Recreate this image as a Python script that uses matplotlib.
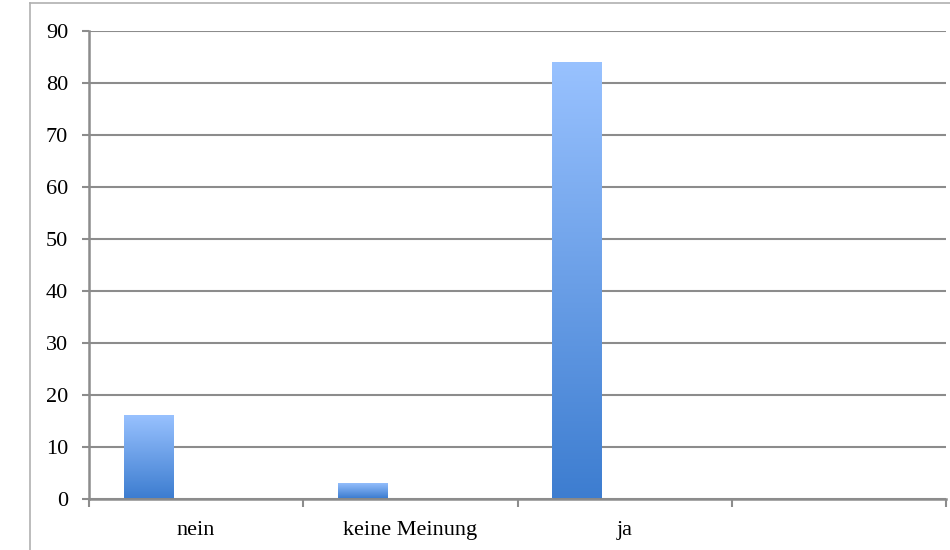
import numpy as np
import matplotlib
matplotlib.use("Agg")
import matplotlib.pyplot as plt
from matplotlib.colors import LinearSegmentedColormap
from matplotlib.lines import Line2D

categories = ["nein", "keine Meinung", "ja", ""]
values = [16, 3, 84]
y_ticks = list(range(0, 91, 10))

plt.rcParams['font.family'] = ['Liberation Serif', 'DejaVu Serif']

fig = plt.figure(figsize=(9.5, 5.5), dpi=100)
ax = fig.add_axes([89 / 950, 51.5 / 550, 857 / 950, 467.5 / 550])

grid_col = "#8c8c8c"
cmap = LinearSegmentedColormap.from_list("bar", ["#3d7dd0", "#99c2ff"])
grad = np.linspace(0, 1, 256).reshape(-1, 1)

# bars sit in the left part of each category slot
offset, width = 0.163, 0.229
xs = np.arange(len(values)) + offset
bars = ax.bar(xs, values, width=width, align="edge", color="none", zorder=3)
for b in bars:
    x0, y0 = b.get_x(), b.get_y()
    w, h = b.get_width(), b.get_height()
    # soft shadow
    ax.bar(x0 + 0.004, h, width=w, align="edge", color="#000000", alpha=0.12,
           zorder=2.5)
    im = ax.imshow(grad, cmap=cmap, origin="lower", aspect="auto",
                   extent=(x0, x0 + w, y0, y0 + h), zorder=3)
    im.set_clip_path(b)

ax.set_xlim(0, len(categories))
ax.set_ylim(0, 90)
ax.set_yticks(y_ticks)
ax.set_yticklabels([str(t) for t in y_ticks], fontsize=16)
ax.yaxis.grid(True, color=grid_col, linewidth=1.5, zorder=1)
ax.set_axisbelow(True)

ax.set_xticks(np.arange(len(categories)) + 0.5)
ax.set_xticklabels(categories, fontsize=16)
ax.set_xticks(np.arange(len(categories) + 1), minor=True)
ax.tick_params(axis="x", which="major", length=0, pad=16)
ax.tick_params(axis="x", which="minor", length=6, width=1.5, color=grid_col)
ax.tick_params(axis="y", length=5, width=1.5, color=grid_col, pad=10)

for s in ["top", "right"]:
    ax.spines[s].set_visible(False)
for s in ["left", "bottom"]:
    ax.spines[s].set_color(grid_col)
    ax.spines[s].set_linewidth(1.8)

# outer frame of the chart area
fig.add_artist(Line2D([30 / 950, 30 / 950], [0, 547 / 550], color="#b0b0b0", lw=1.2))
fig.add_artist(Line2D([30 / 950, 1], [547 / 550, 547 / 550], color="#b0b0b0", lw=1.2))

fig.savefig("out.png", dpi=100)
